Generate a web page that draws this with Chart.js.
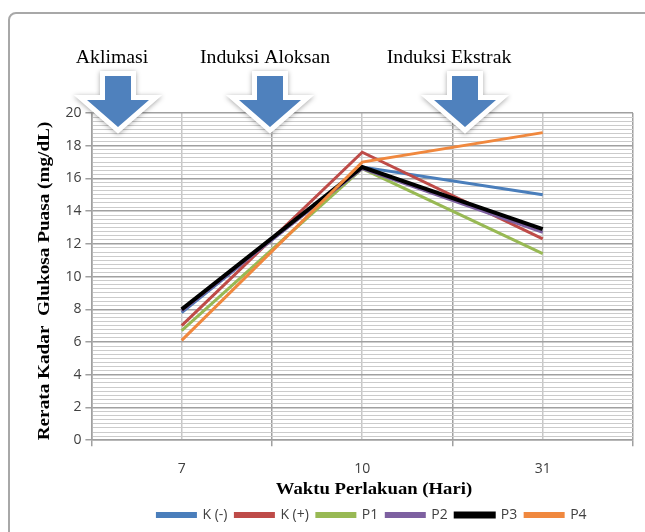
<!DOCTYPE html>
<html>
<head>
<meta charset="utf-8">
<script src="https://cdn.jsdelivr.net/npm/chart.js@4/dist/chart.umd.min.js"></script>
<style>
    html, body { margin: 0; padding: 0; background: #ffffff; }
    #wrap { position: relative; width: 645px; height: 532px; overflow: hidden; }
    #frame {
        position: absolute; left: 8px; top: 12px; width: 700px; height: 600px;
        border: 2px solid #a8a8a8; border-radius: 8px; box-sizing: border-box;
    }
    #myChart { position: absolute; left: 0; top: 0; }
</style>
</head>
<body>
<div id="wrap">
    <div id="frame"></div>
    <canvas id="myChart" width="645" height="532"></canvas>
</div>
<script>
// Days of treatment (category axis)
const days = ['7', '10', '31'];

// Mean fasting glucose per group (mg/dL)
const kNeg = [7.8, 16.7, 15.0];
const kPos = [7.0, 17.6, 12.3];
const p1 = [6.7, 16.6, 11.4];
const p2 = [7.9, 16.6, 12.7];
const p3 = [8.0, 16.7, 12.9];
const p4 = [6.1, 17.0, 18.8];

const seriesNames = ['K (-)', 'K (+)', 'P1', 'P2', 'P3', 'P4'];
const seriesValues = [kNeg, kPos, p1, p2, p3, p4];
const seriesColors = ['#4a7ebb', '#be4b48', '#98b954', '#7d60a0', '#000000', '#f0883e'];

// Phase labels shown above the arrows
const phaseLabels = ['Aklimasi', 'Induksi Aloksan', 'Induksi Ekstrak'];

const xTitle = 'Waktu Perlakuan (Hari)';
const yTitle = 'Rerata Kadar  Glukosa Puasa (mg/dL)';

const yMin = 0;
const yMax = 20;
const yMajor = 2;
const yMinor = 0.25;

const sansFont = "'Open Sans', 'Liberation Sans', sans-serif";
const serifFont = "'Liberation Serif', 'DejaVu Serif', serif";

// Arrows, phase labels and the (stretched) axis titles
const phaseArrows = {
    id: 'phaseArrows',
    afterLayout(chart) {
        // legend in the original sits right of centre
        const shift = 38;
        chart.legend.left += shift;
        chart.legend.right += shift;
    },
    afterDraw(chart) {
        const ctx = chart.ctx;
        const arrowX = [118, 270, 465];
        const textX = [112, 265, 449];
        ctx.save();
        ctx.fillStyle = '#000000';
        ctx.textAlign = 'center';
        ctx.textBaseline = 'alphabetic';
        ctx.font = '19px ' + serifFont;
        phaseLabels.forEach((label, i) => {
            ctx.save();
            ctx.translate(textX[i], 63);
            ctx.scale(1.04, 1);
            ctx.fillText(label, 0, 0);
            ctx.restore();
        });

        // axis titles
        ctx.font = 'bold 17px ' + serifFont;
        ctx.textBaseline = 'middle';
        ctx.save();
        ctx.translate(374, 490);
        ctx.scale(1.1, 1);
        ctx.fillText(xTitle, 0, 0);
        ctx.restore();
        ctx.save();
        ctx.translate(45, 281);
        ctx.rotate(-Math.PI / 2);
        ctx.scale(1.13, 1);
        ctx.fillText(yTitle, 0, 0);
        ctx.restore();

        arrowX.forEach(x => {
            const top = 76, neck = 100, tip = 127;
            const shaft = 13, head = 31;
            const path = new Path2D();
            path.moveTo(x - shaft, top);
            path.lineTo(x + shaft, top);
            path.lineTo(x + shaft, neck);
            path.lineTo(x + head, neck);
            path.lineTo(x, tip);
            path.lineTo(x - head, neck);
            path.lineTo(x - shaft, neck);
            path.closePath();

            // white glow with a soft shadow
            ctx.save();
            ctx.shadowColor = 'rgba(0, 0, 0, 0.35)';
            ctx.shadowBlur = 5;
            ctx.shadowOffsetY = 1;
            ctx.strokeStyle = '#ffffff';
            ctx.lineWidth = 10;
            ctx.lineJoin = 'miter';
            ctx.stroke(path);
            ctx.restore();

            ctx.fillStyle = '#4f81bd';
            ctx.fill(path);
        });
        ctx.restore();
    }
};

const myChart = new Chart(document.getElementById('myChart'), {
    type: 'line',
    data: {
        labels: days,
        datasets: seriesNames.map((name, i) => ({
            label: name,
            data: seriesValues[i],
            borderColor: seriesColors[i],
            backgroundColor: seriesColors[i],
            borderWidth: name === 'P3' ? 4 : 3,
            pointRadius: 0,
            tension: 0,
            fill: false,
            order: seriesNames.length - i,
            xAxisID: 'x'
        }))
    },
    options: {
        responsive: false,
        animation: false,
        devicePixelRatio: 1,
        layout: {
            padding: { left: 35, right: 12, top: 113, bottom: 0 }
        },
        plugins: {
            tooltip: { enabled: false },
            legend: {
                position: 'bottom',
                labels: {
                    boxWidth: 38,
                    boxHeight: 3,
                    padding: 8,
                    color: '#404040',
                    font: { family: sansFont, size: 14 },
                    sort: (a, b) => a.datasetIndex - b.datasetIndex
                }
            }
        },
        scales: {
            // boundary lines + tick marks between categories
            xb: {
                type: 'category',
                labels: days,
                position: 'bottom',
                offset: true,
                weight: 0,
                grid: {
                    offset: true,
                    color: '#a0a0a0',
                    lineWidth: 1.5,
                    tickLength: 6,
                    tickColor: '#a0a0a0'
                },
                border: { display: true, color: '#a0a0a0', width: 1.5 },
                ticks: { display: false }
            },
            x: {
                type: 'category',
                position: 'bottom',
                offset: true,
                weight: 1,
                grid: {
                    offset: false,
                    color: '#c8c8c8',
                    lineWidth: 1.5,
                    drawTicks: false
                },
                border: { display: false },
                ticks: {
                    color: '#404040',
                    padding: 14,
                    font: { family: sansFont, size: 14 }
                },
                // space holder; the visible title is drawn by the plugin
                title: {
                    display: true,
                    text: xTitle,
                    color: 'rgba(0,0,0,0)',
                    padding: { top: -8, bottom: 0 },
                    font: { family: serifFont, size: 17, weight: 'bold', lineHeight: 1 }
                }
            },
            y: {
                min: yMin,
                max: yMax,
                grid: {
                    color: ctx => (ctx.tick && ctx.tick.value % yMajor === 0) ? '#a0a0a0' : '#cbcbcb',
                    lineWidth: ctx => (ctx.tick && ctx.tick.value % yMajor === 0) ? 1.5 : 1,
                    tickLength: 6,
                    tickColor: ctx => (ctx.tick && ctx.tick.value % yMajor === 0) ? '#a0a0a0' : 'rgba(0,0,0,0)'
                },
                border: { display: true, color: '#a0a0a0', width: 1.5 },
                ticks: {
                    stepSize: yMinor,
                    autoSkip: false,
                    color: '#404040',
                    padding: 4,
                    font: { family: sansFont, size: 14 },
                    callback: value => (value % yMajor === 0) ? value : ''
                },
                title: {
                    display: true,
                    text: yTitle,
                    color: 'rgba(0,0,0,0)',
                    padding: { top: 0, bottom: 6 },
                    font: { family: serifFont, size: 17, weight: 'bold' }
                }
            }
        }
    },
    plugins: [phaseArrows]
});
</script>
</body>
</html>
